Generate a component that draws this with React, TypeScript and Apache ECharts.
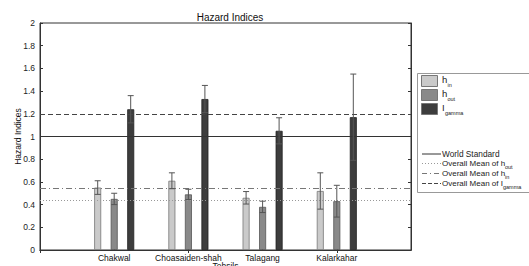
import React, { useEffect, useRef } from "react";
import * as echarts from "echarts";

const categories = ["Chakwal", "Choasaiden-shah", "Talagang", "Kalarkahar"];
const hIn = [0.55, 0.61, 0.46, 0.52];
const hInErr = [0.06, 0.07, 0.055, 0.16];
const hOut = [0.45, 0.49, 0.38, 0.43];
const hOutErr = [0.05, 0.045, 0.05, 0.14];
const iGamma = [1.24, 1.33, 1.05, 1.17];
const iGammaErr = [0.12, 0.12, 0.115, 0.38];
const worldStandard = 1;
const yTicks = [0, 0.2, 0.4, 0.6, 0.8, 1, 1.2, 1.4, 1.6, 1.8, 2];

const mean = (a: number[]) => a.reduce((s, v) => s + v, 0) / a.length;

const FONT = "'Liberation Sans', Arial, sans-serif";
const C_IN = "#cacaca";
const C_OUT = "#898989";
const C_G = "#3d3d3d";
const OFFSETS = [-16.5, 0, 16.5];

export default function App() {
  const ref = useRef<HTMLDivElement>(null);
  useEffect(() => {
    if (!ref.current) return;
    const chart = echarts.init(ref.current, null, { renderer: "svg" });
    const xData = ["", ...categories, ""];
    const pad = (a: number[]) => ["-", ...a, "-"];
    const errData: number[][] = [];
    [
      [hIn, hInErr],
      [hOut, hOutErr],
      [iGamma, iGammaErr],
    ].forEach(([vals, errs], s) => {
      vals.forEach((v, i) => errData.push([i + 1, v, errs[i], OFFSETS[s]]));
    });
    const barCommon = {
      type: "bar",
      barWidth: 7,
      barGap: "136%",
      xAxisIndex: 0,
      yAxisIndex: 0,
    };
    const legendTexts: any[] = [];
    const t = (text: string, x: number, y: number, size: number) =>
      legendTexts.push({
        type: "text",
        x,
        y,
        style: { text, fontSize: size, fontFamily: FONT, fill: "#222", textVerticalAlign: "middle" },
        z: 10,
      });
    const patches = [C_IN, C_OUT, C_G].map((c, i) => ({
      type: "rect",
      shape: { x: 421.5, y: 75.5 + i * 14, width: 16, height: 11 },
      style: { fill: c, stroke: "#777", lineWidth: 1 },
      z: 10,
    }));
    t("h", 442, 79.5, 9.5);
    t("in", 447.5, 84.5, 5.5);
    t("h", 442, 93.5, 9.5);
    t("out", 447.5, 98.5, 5.5);
    t("I", 442, 107.5, 9.5);
    t("gamma", 445, 112.5, 5.5);
    t("World Standard", 442, 154, 8.3);
    t("Overall Mean of h", 442, 163.5, 8);
    t("out", 505, 166.5, 5.5);
    t("Overall Mean of h", 442, 173.5, 8);
    t("in", 505, 176.5, 5.5);
    t("Overall Mean of I", 442, 183.5, 8);
    t("gamma", 503, 187, 5.5);
    const lineItems = [
      { y: 154, dash: null as any, color: "#333" },
      { y: 163.5, dash: [1, 2], color: "#999" },
      { y: 173.5, dash: [5, 3, 1, 3], color: "#777" },
      { y: 183.5, dash: [4, 2], color: "#444" },
    ].map((l) => ({
      type: "line",
      shape: { x1: 422, y1: l.y, x2: 441, y2: l.y },
      style: { stroke: l.color, lineWidth: 1, lineDash: l.dash },
      z: 10,
    }));

    chart.setOption({
      animation: false,
      backgroundColor: "#fff",
      title: {
        text: "Hazard Indices",
        left: 225,
        top: 7,
        textAlign: "center",
        textStyle: { fontSize: 10, fontWeight: "normal", fontFamily: FONT, color: "#111" },
      },
      grid: {
        left: 40,
        right: 118,
        top: 23,
        bottom: 16,
        show: true,
        borderColor: "#333",
        borderWidth: 1,
        containLabel: false,
        outerBoundsMode: "none",
      },
      xAxis: [
        {
          type: "category",
          data: xData,
          boundaryGap: false,
          name: "Tehsils",
          nameLocation: "middle",
          nameGap: 11,
          nameMoveOverlap: false,
          nameTextStyle: { fontSize: 8.5, fontFamily: FONT, color: "#111" },
          axisLine: { lineStyle: { color: "#333" } },
          axisTick: { inside: true, length: 3, lineStyle: { color: "#333" } },
          axisLabel: { fontSize: 8.5, fontFamily: FONT, color: "#111", margin: 3, interval: 0 },
          splitLine: { show: false },
        },
        {
          type: "category",
          data: xData,
          boundaryGap: false,
          position: "top",
          axisLine: { lineStyle: { color: "#333" } },
          axisTick: { inside: true, length: 3, lineStyle: { color: "#333" } },
          axisLabel: { show: false },
        },
      ],
      yAxis: [
        {
          type: "value",
          min: 0,
          max: 2,
          interval: 0.2,
          name: "Hazard Indices",
          nameLocation: "middle",
          nameGap: 18,
          nameMoveOverlap: false,
          nameTextStyle: { fontSize: 8.5, fontFamily: FONT, color: "#111" },
          axisLine: { show: true, lineStyle: { color: "#333" } },
          axisTick: { show: true, inside: true, length: 3, lineStyle: { color: "#333" } },
          axisLabel: {
            fontSize: 8.5,
            fontFamily: FONT,
            color: "#222",
            margin: 5,
            formatter: (v: number) => {
              const f = yTicks.find((t) => Math.abs(t - v) < 1e-6);
              return f === undefined ? "" : String(f);
            },
          },
          splitLine: { show: false },
        },
        {
          type: "value",
          min: 0,
          max: 2,
          interval: 0.2,
          position: "right",
          axisLine: { show: true, lineStyle: { color: "#333" } },
          axisTick: { show: true, inside: true, length: 3, lineStyle: { color: "#333" } },
          axisLabel: { show: false },
          splitLine: { show: false },
        },
      ],
      series: [
        {
          ...barCommon,
          name: "h_in",
          data: pad(hIn),
          itemStyle: { color: C_IN, borderColor: "#777", borderWidth: 0.8 },
        },
        {
          ...barCommon,
          name: "h_out",
          data: pad(hOut),
          itemStyle: { color: C_OUT, borderColor: "#555", borderWidth: 0.8 },
        },
        {
          ...barCommon,
          name: "I_gamma",
          data: pad(iGamma),
          itemStyle: { color: C_G, borderColor: "#222", borderWidth: 0.8 },
        },
        {
          type: "line",
          name: "refs",
          data: [],
          silent: true,
          z: 3,
          markLine: {
            silent: true,
            symbol: "none",
            label: { show: false },
            data: [
              { yAxis: worldStandard, lineStyle: { color: "#333", width: 1.2, type: "solid" } },
              { yAxis: mean(hOut), lineStyle: { color: "#999", width: 1, type: [1, 2] } },
              { yAxis: mean(hIn), lineStyle: { color: "#777", width: 1, type: [6, 3, 1, 3] } },
              { yAxis: mean(iGamma), lineStyle: { color: "#444", width: 1, type: [5, 3] } },
            ],
          },
        },
        {
          type: "custom",
          name: "errors",
          data: errData,
          z: 5,
          renderItem: (params: any, api: any) => {
            const x = api.value(0);
            const v = api.value(1);
            const e = api.value(2);
            const off = api.value(3);
            const top = api.coord([x, v + e]);
            const bot = api.coord([x, v - e]);
            const cx = top[0] + off;
            const st = { stroke: "#555", lineWidth: 1 };
            return {
              type: "group",
              children: [
                { type: "line", shape: { x1: cx, y1: top[1], x2: cx, y2: bot[1] }, style: st },
                { type: "line", shape: { x1: cx - 3, y1: top[1], x2: cx + 3, y2: top[1] }, style: st },
                { type: "line", shape: { x1: cx - 3, y1: bot[1], x2: cx + 3, y2: bot[1] }, style: st },
              ],
            };
          },
        },
      ],
      graphic: [
        {
          type: "rect",
          shape: { x: 417.5, y: 73.5, width: 130, height: 119 },
          style: { fill: "#fff", stroke: "#999", lineWidth: 1 },
          z: 9,
        },
        ...patches,
        ...lineItems,
        ...legendTexts,
      ],
    });
    return () => chart.dispose();
  }, []);
  return (
    <div
      ref={ref}
      style={{ position: "fixed", left: 0, top: 0, width: 529, height: 266, background: "#fff" }}
    />
  );
}
